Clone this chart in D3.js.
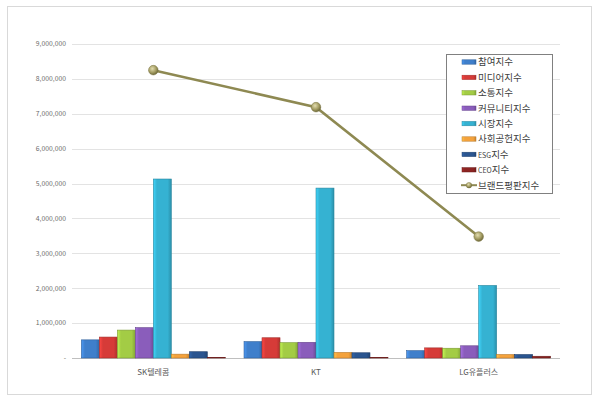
<!DOCTYPE html>
<html><head><meta charset="utf-8">
<script src="https://cdn.jsdelivr.net/npm/d3@7"></script>
<style>
html,body{margin:0;padding:0;background:#fff;}
svg{display:block;font-family:"Noto Sans CJK KR","Noto Sans",sans-serif;}
</style></head>
<body><svg id="c" width="600" height="402"></svg>
<script>
const categories = ["SK텔레콤", "KT", "LG유플러스"];
const seriesNames = ["참여지수", "미디어지수", "소통지수", "커뮤니티지수", "시장지수", "사회공헌지수", "ESG지수", "CEO지수"];
const 참여지수 = [520000, 470000, 210000];
const 미디어지수 = [600000, 580000, 290000];
const 소통지수 = [800000, 440000, 280000];
const 커뮤니티지수 = [870000, 450000, 350000];
const 시장지수 = [5130000, 4870000, 2080000];
const 사회공헌지수 = [110000, 160000, 100000];
const ESG지수 = [180000, 150000, 100000];
const CEO지수 = [20000, 20000, 50000];
const 브랜드평판지수 = [8250000, 7190000, 3480000];
const lineName = "브랜드평판지수";
const yTicks = [0, 1000000, 2000000, 3000000, 4000000, 5000000, 6000000, 7000000, 8000000, 9000000];

const seriesValues = [참여지수, 미디어지수, 소통지수, 커뮤니티지수, 시장지수, 사회공헌지수, ESG지수, CEO지수];
const colors = ["#3f7fcb", "#d63b38", "#a3cc45", "#8a5dbb", "#35b2d2", "#f4a23c", "#2a5590", "#8c2422"];
const lineColor = "#8e8952";

const svg = d3.select("#c");
const defs = svg.append("defs");

// frame
svg.append("rect").attr("x", 7.5).attr("y", 6.5).attr("width", 584).attr("height", 388)
  .attr("fill", "#fff").attr("stroke", "#d9d9d9").attr("stroke-width", 1);

const y = d3.scaleLinear().domain([0, 9000000]).range([358, 44]);
const x = d3.scaleBand().domain(categories).range([72, 560]).paddingInner(0).paddingOuter(0);
const xs = d3.scaleBand().domain(seriesNames).range([0, x.bandwidth()]).paddingInner(0).paddingOuter(0.52);

// gradients
colors.forEach((c, i) => {
  const g = defs.append("linearGradient").attr("id", "g" + i).attr("x1", 0).attr("x2", 1).attr("y1", 0).attr("y2", 0);
  const base = d3.color(c);
  g.append("stop").attr("offset", "0%").attr("stop-color", base.brighter(0.5));
  g.append("stop").attr("offset", "20%").attr("stop-color", base);
  g.append("stop").attr("offset", "80%").attr("stop-color", base);
  g.append("stop").attr("offset", "100%").attr("stop-color", base.darker(0.6));
});
const mg = defs.append("radialGradient").attr("id", "mg").attr("cx", "40%").attr("cy", "35%").attr("r", "65%");
mg.append("stop").attr("offset", "0%").attr("stop-color", "#e3ddb0");
mg.append("stop").attr("offset", "60%").attr("stop-color", "#a49d63");
mg.append("stop").attr("offset", "100%").attr("stop-color", "#6f6a3a");

// gridlines
svg.append("g").selectAll("line").data(yTicks).join("line")
  .attr("x1", 72).attr("x2", 560)
  .attr("y1", d => Math.round(y(d)) + 0.5).attr("y2", d => Math.round(y(d)) + 0.5)
  .attr("stroke", d => d === 0 ? "#bfbfbf" : "#e3e3e3").attr("stroke-width", 1);

// y labels
const fmt = d3.format(",");
svg.append("g").selectAll("text").data(yTicks).join("text")
  .attr("x", 66).attr("y", d => y(d)).attr("dy", "0.35em")
  .attr("text-anchor", "end").attr("font-size", 6.8).attr("fill", "#6a6a6a")
  .text(d => d === 0 ? "-" : fmt(d));

// bars
seriesNames.forEach((s, i) => {
  svg.append("g").selectAll("rect").data(categories).join("rect")
    .attr("x", c => x(c) + xs(s))
    .attr("width", xs.bandwidth())
    .attr("y", (c, j) => y(seriesValues[i][j]))
    .attr("height", (c, j) => y(0) - y(seriesValues[i][j]))
    .attr("fill", "url(#g" + i + ")")
    .attr("stroke", d3.color(colors[i]).darker(0.8))
    .attr("stroke-width", 0.6);
});

// x labels
svg.append("g").selectAll("text").data(categories).join("text")
  .attr("x", c => x(c) + x.bandwidth() / 2).attr("y", 375)
  .attr("text-anchor", "middle").attr("font-size", 8).attr("fill", "#595959")
  .text(c => c);

// line
const line = d3.line().x((d, i) => x(categories[i]) + x.bandwidth() / 2).y(d => y(d));
svg.append("path").datum(브랜드평판지수).attr("d", line)
  .attr("fill", "none").attr("stroke", lineColor).attr("stroke-width", 2.6);
svg.append("g").selectAll("circle").data(브랜드평판지수).join("circle")
  .attr("cx", (d, i) => x(categories[i]) + x.bandwidth() / 2).attr("cy", d => y(d))
  .attr("r", 4.8).attr("fill", "url(#mg)").attr("stroke", "#7a7543").attr("stroke-width", 0.5);

// legend
const lg = svg.append("g");
lg.append("rect").attr("x", 446.5).attr("y", 54.5).attr("width", 106).attr("height", 139)
  .attr("fill", "#fff").attr("stroke", "#808080").attr("stroke-width", 1);
const allNames = seriesNames.concat([lineName]);
allNames.forEach((n, i) => {
  const cy = 62 + i * 15.4;
  if (i < seriesNames.length) {
    lg.append("rect").attr("x", 462).attr("y", cy - 2.2).attr("width", 14).attr("height", 4.4)
      .attr("fill", "url(#g" + i + ")").attr("stroke", d3.color(colors[i]).darker(0.8)).attr("stroke-width", 0.5);
  } else {
    lg.append("line").attr("x1", 461).attr("x2", 477).attr("y1", cy).attr("y2", cy)
      .attr("stroke", lineColor).attr("stroke-width", 2);
    lg.append("circle").attr("cx", 469).attr("cy", cy).attr("r", 2.8).attr("fill", "url(#mg)")
      .attr("stroke", "#7a7543").attr("stroke-width", 0.4);
  }
  const t = lg.append("text").attr("x", 478).attr("y", cy).attr("dy", "0.35em")
    .attr("font-size", 9.5).attr("fill", "#404040");
  const m = n.match(/^([A-Z]+)(.*)$/);
  if (m) {
    t.append("tspan").attr("font-size", 7).text(m[1]);
    t.append("tspan").text(m[2]);
  } else {
    t.text(n);
  }
});
</script></body></html>
